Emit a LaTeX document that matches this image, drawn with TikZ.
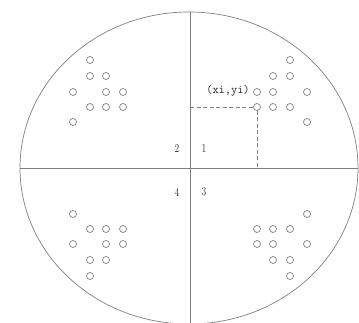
\documentclass[tikz,border=0pt]{standalone}
\begin{document}
\begin{tikzpicture}[x=1pt,y=-1pt,
  axis/.style={draw=black!50,line width=0.7pt},
  hole/.style={circle,draw=black!50,line width=0.7pt,minimum size=7pt,inner sep=0pt},
  guide/.style={draw=black!50,line width=0.6pt,dash pattern=on 4pt off 2.5pt},
  lbl/.style={font=\fontsize{12}{14}\selectfont,text=black!85,xscale=0.8,inner sep=0pt}]
\useasboundingbox (0,0) rectangle (359,323);
\fill[white] (0,0) rectangle (359,323);
% outer ellipse and axes
\draw[axis] (189,168) ellipse [x radius=169, y radius=156];
\coordinate (T) at (190,12);
\coordinate (B) at (190,323);
\coordinate (L) at (20,168);
\coordinate (R) at (358,168);
\draw[axis] (T) -- (B);
\draw[axis] (L) -- (R);
% upper-left holes
\foreach \x/\y [count=\i] in {90/60, 90/76,106/76, 73/92,106/92,123/92, 90/107,106/107,123/107, 73/122}
  \node[hole] (ul\i) at (\x,\y) {};
% upper-right holes
\foreach \x/\y [count=\i] in {290/60, 273/76,290/76, 257/92,273/92,307/92, 257/107,273/107,290/107, 307/122}
  \node[hole] (ur\i) at (\x,\y) {};
% lower-left holes
\foreach \x/\y [count=\i] in {73/214, 90/229,106/229,123/229, 73/244,106/244,123/244, 90/260,106/260, 90/276}
  \node[hole] (ll\i) at (\x,\y) {};
% lower-right holes
\foreach \x/\y [count=\i] in {307/214, 257/229,273/229,290/229, 257/244,273/244,307/244, 273/260,290/260, 290/276}
  \node[hole] (lr\i) at (\x,\y) {};
% dashed guides to marked hole
\coordinate (gx) at (190,107);
\coordinate (gy) at (257,168);
\draw[guide] (gx) -- (ur7.west);
\draw[guide] (ur7.south) -- (gy);
% labels
\node[font=\ttfamily\fontsize{12}{14}\selectfont,text=black!85,inner sep=0pt,fill=white] (xy) at (228,91) {(xi,yi)};
\node[lbl] (q2) at (177,149) {2};
\node[lbl] (q1) at (204,149) {1};
\node[lbl] (q4) at (177,192) {4};
\node[lbl] (q3) at (204,192) {3};
\end{tikzpicture}
\end{document}
